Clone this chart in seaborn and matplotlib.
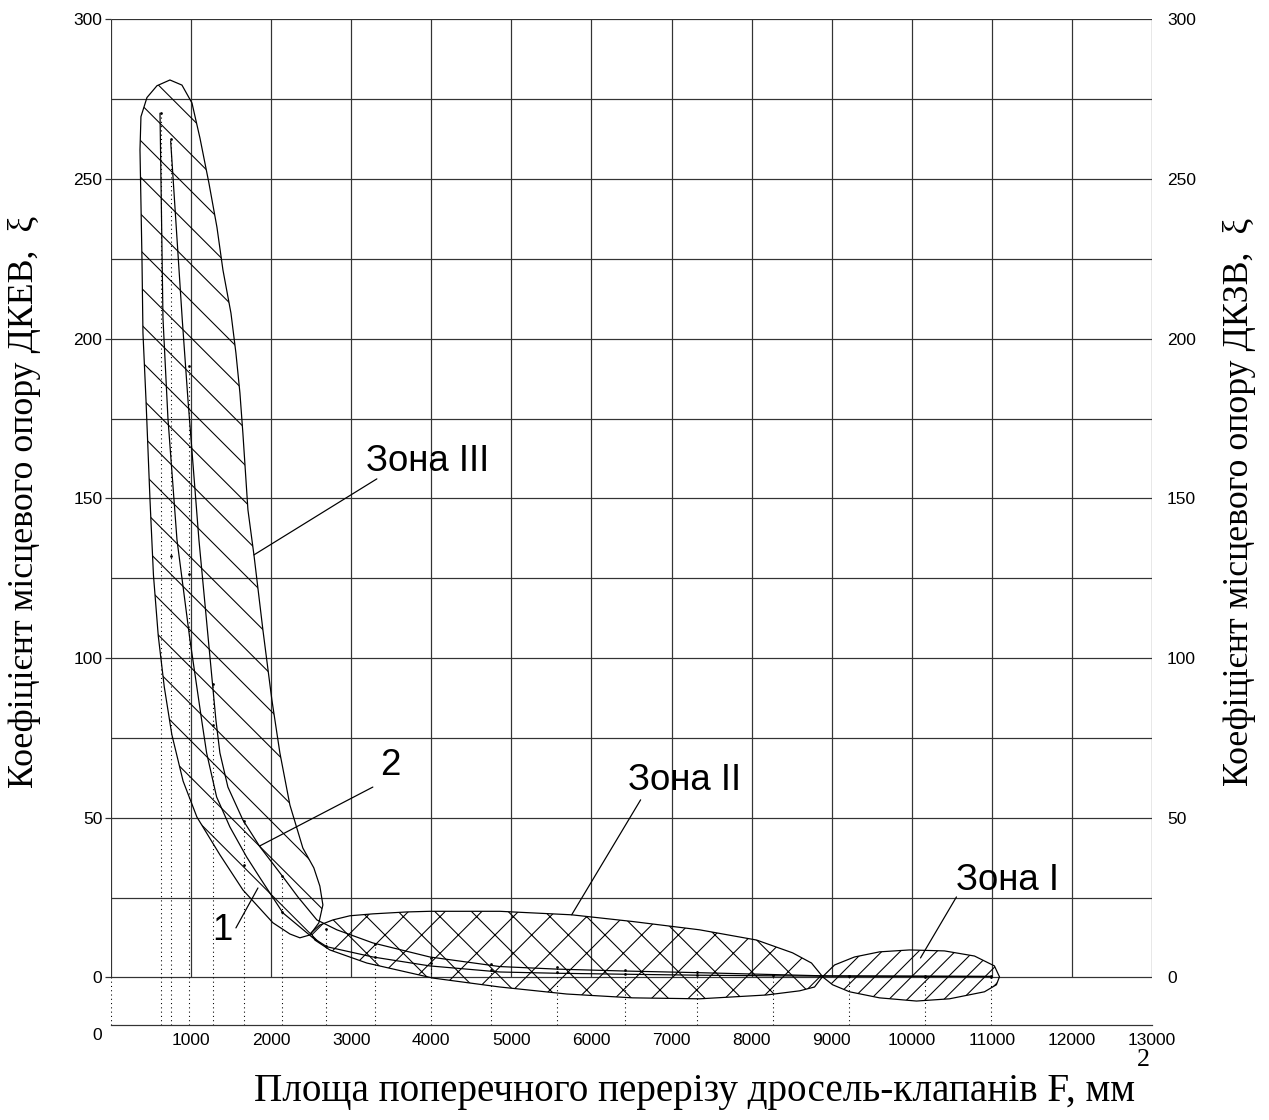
import matplotlib
matplotlib.use("Agg")
import matplotlib.pyplot as plt
import seaborn as sns
import pandas as pd
import numpy as np

# measurement positions (dotted drop lines), F in mm^2
points_x = [620, 746, 973, 1273, 1660, 2134, 2683, 3295, 3994, 4742,
            5566, 6415, 7313, 8262, 9210, 10171, 10995]
points_upper = [270.6, 262.4, 191.4, 91.9, 49.1, 31.6, 15.2, 10.5, 6.1, 4.2,
                3.2, 2.2, 1.6, 0.9, 0.5, 0.4, 0.3]
points_lower_x = points_x[1:]
points_lower = [132.0, 126.3, 79.0, 35.2, 20.4, 9.9, 6.5, 4.4, 2.3,
                1.8, 1.2, 0.9, 0.6, 0.3, 0.2, 0.1]

# curve 1 (ДКЕВ)
curve1_x = [612, 649, 711, 824, 986, 1132, 1194, 1319, 1485, 1694, 1860, 2147,
            2521, 2696, 3270, 3981, 4855, 5566, 6415, 7313, 8262, 8886, 10995]
curve1_y = [270.6, 206.4, 175.1, 137.0, 105.7, 80.6, 70.3, 56.5, 47.1, 37.7, 31.2, 20.2,
            12.4, 9.6, 6.4, 3.6, 1.7, 1.3, 1.0, 0.7, 0.5, 0.4, 0.3]
# curve 2 (ДКЗВ)
curve2_x = [745, 890, 961, 1098, 1310, 1360, 1460, 1647, 1860, 2147, 2334, 2571,
            2821, 3270, 3981, 4855, 5566, 6415, 7313, 8262, 8886, 10995]
curve2_y = [261.9, 205.9, 180.9, 137.0, 80.6, 70.3, 59.6, 49.3, 40.9, 31.5, 25.2, 18.0,
            14.9, 10.8, 6.4, 3.4, 2.6, 2.0, 1.5, 0.9, 0.5, 0.3]

# zone outlines
zone3_x = [736, 886, 1011, 1111, 1223, 1323, 1398, 1498, 1560, 1610, 1647, 1710, 1785,
           1897, 2009, 2109, 2234, 2396, 2533, 2608, 2646, 2596, 2484, 2359, 2234, 2022,
           1647, 1360, 1073, 900, 760, 665, 590, 530, 487, 437, 399, 387, 362, 374, 449, 574]
zone3_y = [281.0, 279.4, 273.8, 262.8, 248.7, 234.9, 221.5, 208.0, 195.5, 183.0, 170.4,
           146.4, 132.3, 108.8, 86.9, 70.3, 54.0, 40.5, 34.3, 28.6, 22.7, 17.1, 13.3, 12.4,
           13.6, 17.1, 27.4, 38.4, 50.2, 61.5, 76.0, 91.0, 107.0, 126.0, 149.5, 180.8,
           201.8, 224.6, 259.1, 269.5, 275.5, 279.2]
zone2_x = [2496, 2608, 2771, 2983, 3270, 3694, 3981, 4855, 5753, 6515, 7351, 8062, 8511,
           8748, 8886, 8786, 8599, 8187, 7351, 6515, 5691, 4855, 4019, 3195, 2733, 2546]
zone2_y = [13.9, 16.4, 18.0, 19.3, 19.9, 20.5, 20.7, 20.7, 19.6, 17.5, 14.9, 11.7, 7.7,
           4.5, 0.25, -3.0, -4.2, -5.5, -6.7, -6.4, -5.2, -3.0, -0.2, 4.5, 8.6, 11.7]
zone1_x = [8886, 9036, 9285, 9597, 9971, 10408, 10783, 11032, 11095, 11057, 10908,
           10471, 10059, 9597, 9223, 9011]
zone1_y = [0.2, 3.9, 6.4, 8.0, 8.6, 8.3, 6.7, 3.6, 0.2, -2.3, -4.5, -6.7, -7.4, -6.4,
           -4.5, -2.3]

# annotations: text, text position, leader line (from, to)
labels = ["Зона III", "2", "1", "Зона II", "Зона I"]
label_pos = [(3956, 161.6), (3488, 66.2), (1385, 14.6), (7164, 61.8), (11195, 30.5)]
leaders = [((3320, 156.1), (1785, 132.3)),
           ((3270, 59.6), (1860, 41.2)),
           ((1560, 15.5), (1835, 28.0)),
           ((6614, 55.6), (5753, 19.6)),
           ((10558, 25.2), (10109, 6.1))]

sns.set_style("white")
plt.rcParams["font.family"] = ["Liberation Sans", "DejaVu Sans"]
plt.rcParams["hatch.linewidth"] = 0.35
for k in ["text.color", "xtick.color", "ytick.color", "axes.labelcolor"]:
    plt.rcParams[k] = "black"

DPI = 220
fig = plt.figure(figsize=(1269 / DPI, 1120 / DPI), dpi=DPI)
ax = fig.add_axes([111 / 1269, 1 - 1025 / 1120, 1041 / 1269, (1025 - 19.3) / 1120])
ax.set_xlim(0, 13000)
ax.set_ylim(-14.9, 300)

grid_c = "#333333"
ax.hlines(np.arange(0, 301, 25), 0, 13000, color=grid_c, lw=0.4, zorder=1)
ax.vlines(np.arange(0, 13001, 1000), 0, 300, color=grid_c, lw=0.4, zorder=1)

# zones
for zx, zy, h in [(zone3_x, zone3_y, "\\\\"), (zone2_x, zone2_y, "xx"), (zone1_x, zone1_y, "////")]:
    ax.fill(zx, zy, facecolor="none", edgecolor="black", hatch=h, lw=0.4, zorder=2)

# drop lines
ax.vlines(points_x, -14.9, points_upper, color="black", lw=0.35,
          linestyles=(0, (1, 3)), zorder=2)
ax.vlines([0], -14.9, 0, color="black", lw=0.35, linestyles=(0, (1, 3)), zorder=2)

# curves
c1 = pd.DataFrame({"F": curve1_x, "xi": curve1_y})
c2 = pd.DataFrame({"F": curve2_x, "xi": curve2_y})
sns.lineplot(data=c1, x="F", y="xi", sort=False, estimator=None, color="black", lw=0.4, ax=ax, zorder=3)
sns.lineplot(data=c2, x="F", y="xi", sort=False, estimator=None, color="black", lw=0.4, ax=ax, zorder=3)

pts = pd.DataFrame({"F": points_x + points_lower_x, "xi": points_upper + points_lower})
sns.scatterplot(data=pts, x="F", y="xi", color="black", s=0.8, linewidth=0, ax=ax, zorder=4)

# annotations
for txt, (tx, ty), ((x0, y0), (x1, y1)) in zip(labels, label_pos, leaders):
    ax.plot([x0, x1], [y0, y1], color="black", lw=0.4, zorder=3)
    ax.text(tx, ty, txt, fontsize=12, ha="center", va="center", zorder=5)

# axes styling
for s in ["left", "right", "top"]:
    ax.spines[s].set_visible(False)
ax.spines["bottom"].set_color(grid_c)
ax.spines["bottom"].set_linewidth(0.4)
ax.set_yticks(range(0, 301, 50))
ax.set_xticks(range(1000, 13001, 1000))
ax.tick_params(axis="y", left=True, length=2, width=0.4, pad=0.8, labelsize=5.7, color=grid_c)
ax.tick_params(axis="x", bottom=True, length=0, pad=2.5, labelsize=5.7)
ax.set_xlabel("")
ax.set_ylabel("")
ax.text(-175, -18.3, "0", fontsize=5.7, ha="center", va="center", clip_on=False)

ax2 = ax.twinx()
ax2.set_ylim(ax.get_ylim())
ax2.set_yticks(range(0, 301, 50))
ax2.tick_params(axis="y", right=True, length=0, pad=4.9, labelsize=5.7)
for s in ax2.spines.values():
    s.set_visible(False)

serif = ["Liberation Serif", "DejaVu Serif"]
fig.text(25 / 1269, 1 - 502 / 1120, "Коефіцієнт місцевого опору ДКЕВ,  ξ", rotation=90,
         ha="center", va="center", fontsize=11.7, family=serif)
fig.text(1240 / 1269, 1 - 502 / 1120, "Коефіцієнт місцевого опору ДКЗВ,  ξ", rotation=90,
         ha="center", va="center", fontsize=11.7, family=serif)
fig.text(694 / 1269, 1 - 1092 / 1120, "Площа поперечного перерізу дросель-клапанів F, мм",
         ha="center", va="center", fontsize=12.8, family=serif)
fig.text(1143 / 1269, 1 - 1060 / 1120, "2", ha="center", va="center", fontsize=8.5, family=serif)

fig.savefig("out.png", dpi=DPI)
